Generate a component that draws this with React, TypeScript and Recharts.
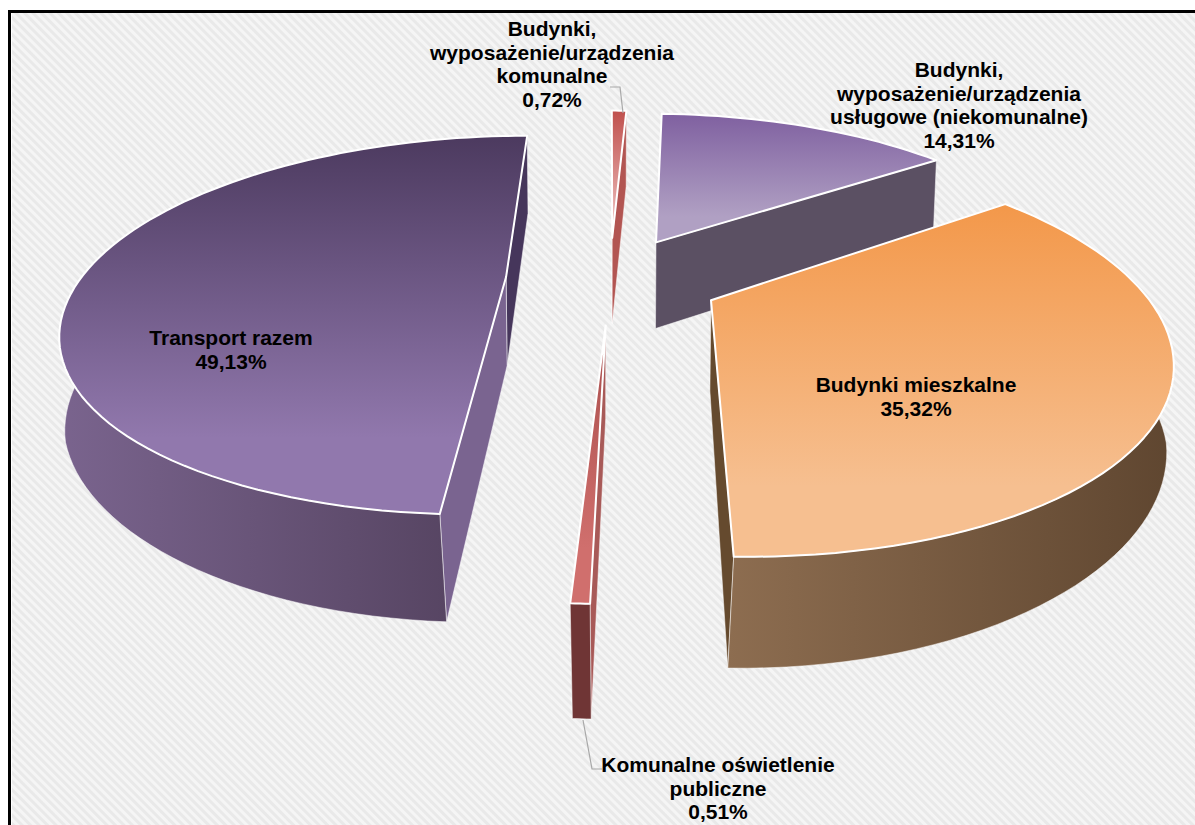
import { PieChart, Pie } from "recharts";

const CATEGORIES = [
  "Budynki, wyposażenie/urządzenia komunalne",
  "Budynki, wyposażenie/urządzenia usługowe (niekomunalne)",
  "Budynki mieszkalne",
  "Komunalne oświetlenie publiczne",
  "Transport razem",
];
const VALUES = [0.72, 14.31, 35.32, 0.51, 49.13];

const LABEL_LINES = [
  ["Budynki,", "wyposażenie/urządzenia", "komunalne"],
  ["Budynki,", "wyposażenie/urządzenia", "usługowe (niekomunalne)"],
  ["Budynki mieszkalne"],
  ["Komunalne oświetlenie", "publiczne"],
  ["Transport razem"],
];

// [center x, first baseline] of each label
const LABEL_AT = [
  [552, 36],
  [959, 77],
  [916, 392],
  [718, 772],
  [231, 345],
];

// how far each slice is pulled out, as a share of the radius
const EXPLODE = [0.24, 0.24, 0.26, 0.25, 0.245];

const TOP_FROM = ["#c0504d", "#7f60a0", "#f3984a", "#a84d4b", "#4c3a5f"];
const TOP_TO = ["#e8b0ae", "#b0a0c3", "#f6bf90", "#d06f6d", "#9178ad"];
const RIM_FROM = ["#8a3a38", "#5b5063", "#8d6d50", "#6f3535", "#7a648e"];
const RIM_TO = ["#8a3a38", "#5b5063", "#5f4630", "#6f3535", "#574563"];
// near cut wall, far cut wall
const WALL_NEAR = ["#b25552", "#5b5063", "#654a2e", "#a85a58", "#7a6490"];
const WALL_FAR = ["#b25552", "#5b5063", "#654a2e", "#8a3a38", "#46365b"];

const CX = 610;
const CY = 278;
const RADIUS = 425;
const FIRST_ANGLE = 90;

// perspective of the tilted disc
const TILT = 0.418;
const PERSP = 0.255;

const data = CATEGORIES.map((name, i) => ({ name, value: VALUES[i] }));

type Pt = [number, number];

function project(x: number, z: number, r: number, cx: number, cy: number) {
  const s = 1 / (1 - PERSP * z);
  return { top: [cx + r * x * s, cy + r * TILT * z * s] as Pt, s };
}

// the bottom face: verticals lean inward more the nearer they are
function lower(p: Pt, s: number, cx: number): Pt {
  const lean = Math.max(0.01, 0.015 + (p[1] - 375) * 0.00018);
  return [cx + (p[0] - cx) * (1 - lean), p[1] + 33 + 56 * s];
}

function toPath(pts: Pt[]) {
  return "M" + pts.map((p) => `${p[0].toFixed(1)},${p[1].toFixed(1)}`).join("L") + "Z";
}

function side(a: Pt, b: Pt, p: Pt) {
  return (b[0] - a[0]) * (p[1] - a[1]) - (b[1] - a[1]) * (p[0] - a[0]);
}

function Slice3D(props: any) {
  const { cx, cy, outerRadius, startAngle, endAngle, name } = props;
  const i = CATEGORIES.indexOf(name);
  const p1 = 90 - startAngle;
  const p2 = 90 - endAngle;
  const mid = (((p1 + p2) / 2) * Math.PI) / 180;
  const ox = EXPLODE[i] * Math.sin(mid);
  const oz = -EXPLODE[i] * Math.cos(mid);

  const at = (phi: number) => {
    const a = (phi * Math.PI) / 180;
    const dz = -Math.cos(a);
    const { top, s } = project(ox + Math.sin(a), oz + dz, outerRadius, cx, cy);
    return { top, bottom: lower(top, s, cx), dz };
  };

  const apex = project(ox, oz, outerRadius, cx, cy);
  const apexTop = apex.top;
  const apexBottom = lower(apex.top, apex.s, cx);

  const rim = [];
  const steps = Math.max(4, Math.ceil((p2 - p1) / 2));
  for (let k = 0; k <= steps; k++) rim.push(at(p1 + ((p2 - p1) * k) / steps));

  const midRim = rim[Math.floor(steps / 2)].top;
  const first = rim[0];
  const last = rim[steps];

  const wall = (r: typeof first) => {
    const lowMid: Pt = [(apexBottom[0] + r.bottom[0]) / 2, (apexBottom[1] + r.bottom[1]) / 2];
    const visible = side(apexTop, r.top, lowMid) * side(apexTop, r.top, midRim) < 0;
    return visible ? toPath([apexTop, r.top, r.bottom, apexBottom]) : null;
  };
  const farFirst = first.top[1] < last.top[1];
  const farWall = wall(farFirst ? first : last);
  const nearWall = wall(farFirst ? last : first);

  // only the part of the rim that turns towards the viewer
  const front = rim.filter((r) => r.dz > -0.15);
  const rimPath =
    front.length > 1
      ? toPath([...front.map((r) => r.top), ...[...front].reverse().map((r) => r.bottom)])
      : null;

  return (
    <g>
      <defs>
        <linearGradient id={`top${i}`} x1="0" y1="0" x2="0" y2="1">
          <stop offset="0" stopColor={TOP_FROM[i]} />
          <stop offset="0.8" stopColor={TOP_TO[i]} />
        </linearGradient>
        <linearGradient id={`rim${i}`} x1="0" y1="0" x2="1" y2="0">
          <stop offset="0" stopColor={RIM_FROM[i]} />
          <stop offset="1" stopColor={RIM_TO[i]} />
        </linearGradient>
      </defs>
      {farWall && <path d={farWall} fill={WALL_FAR[i]} stroke="#fff" strokeOpacity={0.5} />}
      {nearWall && <path d={nearWall} fill={WALL_NEAR[i]} stroke="#fff" strokeOpacity={0.5} />}
      {rimPath && <path d={rimPath} fill={`url(#rim${i})`} stroke="#fff" strokeOpacity={0.5} />}
      <path
        d={toPath([apexTop, ...rim.map((r) => r.top)])}
        fill={`url(#top${i})`}
        stroke="#fff"
        strokeWidth={2}
        strokeLinejoin="round"
      />
    </g>
  );
}

function renderLabel(props: any) {
  const i = CATEGORIES.indexOf(props.name);
  const [x, y] = LABEL_AT[i];
  const lines = [...LABEL_LINES[i], VALUES[i].toFixed(2).replace(".", ",") + "%"];
  return (
    <g>
      {i === 0 && <polyline points="610,87 620,87 623,113" fill="none" stroke="#a8a8a8" strokeWidth={1.2} />}
      {i === 3 && <polyline points="583,720 592,769 602,769" fill="none" stroke="#a8a8a8" strokeWidth={1.2} />}
      <text
        x={x}
        y={y}
        textAnchor="middle"
        fill="#000"
        fontFamily="Liberation Sans, Arial, sans-serif"
        fontWeight="bold"
        fontSize={21}
      >
        {lines.map((t, k) => (
          <tspan key={k} x={x} dy={k === 0 ? 0 : 23.7}>
            {t}
          </tspan>
        ))}
      </text>
    </g>
  );
}

export default function App() {
  return (
    <div style={{ position: "absolute", left: 0, top: 0, width: 1195, height: 825, background: "#fff", overflow: "hidden" }}>
      <div
        style={{
          position: "absolute",
          left: 8,
          top: 10,
          right: 0,
          bottom: 0,
          borderTop: "3px solid #000",
          borderLeft: "3px solid #000",
        }}
      >
        <div
          style={{
            position: "absolute",
            left: 1,
            top: 0,
            right: 0,
            bottom: 0,
            background: "repeating-linear-gradient(45deg, #e9e9e9 0px, #e9e9e9 2px, #f5f5f5 3px, #f5f5f5 5px, #e9e9e9 6px)",
          }}
        />
      </div>
      <div style={{ position: "absolute", left: 0, top: 0 }}>
        <PieChart width={1195} height={825} margin={{ top: 0, right: 0, bottom: 0, left: 0 }}>
          <Pie
            data={data}
            dataKey="value"
            nameKey="name"
            cx={CX}
            cy={CY}
            outerRadius={RADIUS}
            startAngle={FIRST_ANGLE}
            endAngle={FIRST_ANGLE - 360}
            stroke="none"
            shape={Slice3D}
            label={renderLabel}
            labelLine={false}
            isAnimationActive={false}
          />
        </PieChart>
      </div>
    </div>
  );
}
